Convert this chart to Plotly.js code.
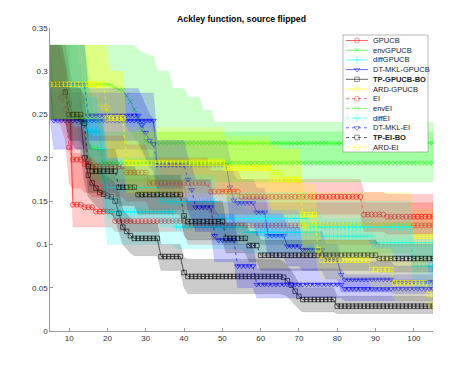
<!DOCTYPE html>
<html>
<head>
<meta charset="utf-8">
<script src="https://cdn.plot.ly/plotly-3.0.1.min.js"></script>
<style>
  html, body { margin: 0; padding: 0; background: #fff; }
  #chart { width: 467px; height: 371px; }
</style>
</head>
<body>
<div id="chart"></div>
<script>
// Best-so-far curves.
// Each row: [iteration where the value starts, mean, band low, band high];
// the value holds until the next row.
const GPUCB = [
  [5, 0.285, 0.245, 0.33], [11, 0.146, 0.12, 0.205], [14, 0.143, 0.12, 0.2],
  [17, 0.138, 0.12, 0.195], [22, 0.127, 0.115, 0.175], [41, 0.122, 0.1, 0.148],
];
const ENV_GPUCB = [
  [5, 0.285, 0.245, 0.33], [21, 0.284, 0.245, 0.33], [22, 0.281, 0.24, 0.33],
  [23, 0.279, 0.24, 0.33], [24, 0.278, 0.24, 0.33], [25, 0.272, 0.235, 0.33],
  [26, 0.265, 0.23, 0.33], [27, 0.256, 0.225, 0.33], [28, 0.245, 0.215, 0.325],
  [29, 0.232, 0.205, 0.322], [30, 0.219, 0.197, 0.32], [31, 0.217, 0.195, 0.318],
  [33, 0.217, 0.195, 0.3], [37, 0.217, 0.195, 0.28], [41, 0.217, 0.195, 0.27],
  [45, 0.217, 0.195, 0.255], [48, 0.217, 0.195, 0.241],
];
const DIFF_GPUCB = [
  [5, 0.285, 0.245, 0.33], [13, 0.26, 0.2, 0.3], [14, 0.24, 0.2, 0.28],
  [15, 0.23, 0.19, 0.27], [19, 0.18, 0.14, 0.22], [20, 0.1376, 0.1, 0.18],
  [38, 0.12, 0.095, 0.15], [56, 0.114, 0.09, 0.14], [76, 0.1095, 0.085, 0.13],
  [90, 0.102, 0.085, 0.125],
];
const DTMKL_GPUCB = [
  [5, 0.285, 0.245, 0.33], [6, 0.243, 0.21, 0.275], [33, 0.192, 0.16, 0.22],
  [52, 0.166, 0.13, 0.2], [53, 0.151, 0.125, 0.18], [54, 0.148, 0.125, 0.175],
  [59, 0.137, 0.11, 0.165], [62, 0.11, 0.085, 0.135], [67, 0.098, 0.075, 0.12],
  [71, 0.094, 0.07, 0.115], [77, 0.0826, 0.06, 0.1], [81, 0.065, 0.045, 0.085],
  [82, 0.0595, 0.045, 0.08], [95, 0.057, 0.043, 0.075],
];
const TP_GPUCB = [
  [5, 0.285, 0.245, 0.33], [10, 0.262, 0.225, 0.3], [11, 0.25, 0.215, 0.285],
  [12, 0.247, 0.21, 0.28], [14, 0.2, 0.17, 0.23], [15, 0.18, 0.155, 0.205],
  [16, 0.171, 0.15, 0.195], [17, 0.165, 0.145, 0.19], [18, 0.16, 0.14, 0.185],
  [19, 0.158, 0.138, 0.18], [20, 0.156, 0.136, 0.178], [21, 0.155, 0.135, 0.175],
  [22, 0.15, 0.13, 0.17], [23, 0.136, 0.115, 0.16], [24, 0.12, 0.1, 0.14],
  [25, 0.115, 0.095, 0.135], [26, 0.11, 0.09, 0.13], [27, 0.107, 0.087, 0.125],
  [34, 0.086, 0.07, 0.1], [40, 0.0675, 0.05, 0.085], [41, 0.063, 0.043, 0.083],
  [66, 0.062, 0.042, 0.08], [67, 0.058, 0.04, 0.075], [68, 0.053, 0.035, 0.07],
  [69, 0.046, 0.03, 0.062], [70, 0.04, 0.025, 0.055], [71, 0.0364, 0.022, 0.05],
  [80, 0.0287, 0.02, 0.04],
];
const ARD_GPUCB = [
  [5, 0.285, 0.245, 0.33], [18, 0.258, 0.22, 0.33], [21, 0.246, 0.2, 0.3],
  [25, 0.196, 0.155, 0.235], [51, 0.19, 0.15, 0.225], [63, 0.183, 0.14, 0.215],
  [66, 0.175, 0.13, 0.21], [71, 0.122, 0.09, 0.16], [100, 0.1095, 0.08, 0.14],
];
const EI = [
  [5, 0.285, 0.245, 0.33], [8, 0.27, 0.235, 0.32], [9, 0.256, 0.22, 0.3],
  [10, 0.212, 0.17, 0.25], [11, 0.198, 0.165, 0.235], [14, 0.193, 0.16, 0.23],
  [16, 0.19, 0.155, 0.225], [25, 0.183, 0.15, 0.215], [31, 0.171, 0.14, 0.2],
  [47, 0.161, 0.135, 0.185], [55, 0.155, 0.135, 0.175], [87, 0.1345, 0.115, 0.16],
  [93, 0.132, 0.112, 0.158],
];
const ENV_EI = [
  [5, 0.285, 0.245, 0.33], [14, 0.281, 0.24, 0.33], [15, 0.25, 0.2, 0.3],
  [16, 0.212, 0.175, 0.255], [17, 0.211, 0.175, 0.25], [18, 0.21, 0.172, 0.245],
  [19, 0.194, 0.172, 0.23],
];
const DIFF_EI = [
  [5, 0.285, 0.245, 0.33], [15, 0.232, 0.2, 0.27], [18, 0.21, 0.17, 0.25],
  [20, 0.1657, 0.13, 0.2], [34, 0.1495, 0.12, 0.18], [49, 0.13, 0.1, 0.16],
  [73, 0.12, 0.09, 0.15], [100, 0.0748, 0.05, 0.1],
];
const DTMKL_EI = [
  [5, 0.285, 0.245, 0.33], [15, 0.249, 0.22, 0.28], [29, 0.238, 0.21, 0.27],
  [30, 0.229, 0.2, 0.26], [31, 0.22, 0.19, 0.25], [32, 0.216, 0.185, 0.245],
  [33, 0.192, 0.165, 0.22], [41, 0.175, 0.14, 0.2], [42, 0.163, 0.13, 0.19],
  [43, 0.143, 0.115, 0.175], [48, 0.11, 0.08, 0.14], [49, 0.105, 0.08, 0.135],
  [54, 0.075, 0.05, 0.1], [59, 0.0537, 0.038, 0.072], [82, 0.0487, 0.035, 0.065],
];
const TP_EI = [
  [5, 0.285, 0.245, 0.33], [9, 0.276, 0.24, 0.31], [10, 0.25, 0.22, 0.28],
  [14, 0.24, 0.21, 0.27], [15, 0.19, 0.16, 0.22], [16, 0.1846, 0.16, 0.21],
  [23, 0.166, 0.145, 0.19], [28, 0.1576, 0.135, 0.18], [40, 0.133, 0.11, 0.155],
  [41, 0.1264, 0.105, 0.15], [51, 0.107, 0.09, 0.125], [57, 0.0987, 0.08, 0.115],
  [60, 0.0875, 0.07, 0.105], [91, 0.0837, 0.068, 0.1],
];
const ARD_EI = [
  [5, 0.285, 0.245, 0.33], [20, 0.246, 0.2, 0.3], [25, 0.194, 0.16, 0.23],
  [51, 0.188, 0.155, 0.22], [63, 0.175, 0.14, 0.21], [71, 0.1345, 0.1, 0.17],
  [75, 0.094, 0.07, 0.12], [76, 0.0818, 0.06, 0.105], [89, 0.071, 0.05, 0.095],
  [95, 0.0557, 0.035, 0.08], [104, 0.042, 0.025, 0.065],
];

const FIRST_ITER = 5;
const LAST_ITER = 105;
const X_TICKS = [10, 20, 30, 40, 50, 60, 70, 80, 90, 100];

const SERIES = [
  { name: "GPUCB", data: GPUCB, rgb: "255,0,0", symbol: "circle-open", size: 5, dash: "solid" },
  { name: "envGPUCB", data: ENV_GPUCB, rgb: "0,255,0", symbol: "x-thin-open", size: 4.5, dash: "solid" },
  { name: "diffGPUCB", data: DIFF_GPUCB, rgb: "0,255,255", symbol: "cross-thin-open", size: 5.5, dash: "solid" },
  { name: "DT-MKL-GPUCB", data: DTMKL_GPUCB, rgb: "0,0,255", symbol: "triangle-down-open", size: 5, dash: "solid" },
  { name: "TP-GPUCB-BO", data: TP_GPUCB, rgb: "0,0,0", symbol: "square-open", size: 4.5, dash: "solid", bold: true },
  { name: "ARD-GPUCB", data: ARD_GPUCB, rgb: "255,255,0", symbol: "square-open", size: 4.5, dash: "solid" },
  { name: "EI", data: EI, rgb: "255,0,0", symbol: "circle-open", size: 5, dash: "dot" },
  { name: "envEI", data: ENV_EI, rgb: "0,255,0", symbol: "x-thin-open", size: 4.5, dash: "dot" },
  { name: "diffEI", data: DIFF_EI, rgb: "0,255,255", symbol: "cross-thin-open", size: 5.5, dash: "dot" },
  { name: "DT-MKL-EI", data: DTMKL_EI, rgb: "0,0,255", symbol: "triangle-down-open", size: 5, dash: "dot" },
  { name: "TP-EI-BO", data: TP_EI, rgb: "0,0,0", symbol: "square-open", size: 4.5, dash: "dot", bold: true },
  { name: "ARD-EI", data: ARD_EI, rgb: "255,255,0", symbol: "square-open", size: 4.5, dash: "dot" },
];

// hold each row's value until the next row starts
function expand(rows) {
  const out = { x: [], y: [], lo: [], hi: [] };
  let k = 0;
  for (let it = FIRST_ITER; it <= LAST_ITER; it++) {
    while (k + 1 < rows.length && rows[k + 1][0] <= it) k++;
    out.x.push(it);
    out.y.push(rows[k][1]);
    out.lo.push(rows[k][2]);
    out.hi.push(rows[k][3]);
  }
  return out;
}

const traces = [];
SERIES.forEach((s) => {
  const d = expand(s.data);
  traces.push({
    x: d.x.concat([...d.x].reverse()),
    y: d.hi.concat([...d.lo].reverse()),
    type: "scatter",
    mode: "lines",
    fill: "toself",
    fillcolor: `rgba(${s.rgb},0.2)`,
    line: { color: `rgba(${s.rgb},0.22)`, width: 0.4 },
    hoverinfo: "skip",
    showlegend: false,
  });
  traces.push({
    x: d.x,
    y: d.y,
    type: "scatter",
    mode: "lines+markers",
    name: s.name,
    line: { color: `rgb(${s.rgb})`, width: 0.6, dash: s.dash },
    marker: { symbol: s.symbol, size: s.size, color: `rgb(${s.rgb})`, line: { width: 0.6, color: `rgb(${s.rgb})` } },
    showlegend: false,
  });
});

// hand-made legend box (plotly's own legend rows are too tall here)
// drawn on an overlay axis measured in screen pixels
const LEG = { left: 343, right: 428, top: 35, bottom: 152, row0: 40.5, step: 9.7 };
traces.push({
  x: [LEG.left, LEG.right, LEG.right, LEG.left, LEG.left],
  y: [LEG.top, LEG.top, LEG.bottom, LEG.bottom, LEG.top],
  xaxis: "x2", yaxis: "y2",
  type: "scatter", mode: "lines", fill: "toself",
  fillcolor: "#ffffff", line: { color: "#8c8c8c", width: 0.6 },
  hoverinfo: "skip", showlegend: false,
});
const annotations = [];
SERIES.forEach((s, i) => {
  const yy = LEG.row0 + i * LEG.step;
  traces.push({
    x: [346, 357, 368],
    y: [yy, yy, yy],
    xaxis: "x2", yaxis: "y2",
    type: "scatter", mode: "lines+markers",
    line: { color: `rgb(${s.rgb})`, width: 0.6, dash: s.dash },
    marker: { symbol: s.symbol, size: [0, s.size, 0], color: `rgb(${s.rgb})`, line: { width: 0.6, color: `rgb(${s.rgb})` } },
    hoverinfo: "skip", showlegend: false,
  });
  annotations.push({
    x: 371, y: yy, xref: "x2", yref: "y2",
    text: s.bold ? `<b>${s.name}</b>` : s.name,
    showarrow: false, xanchor: "left", yanchor: "middle",
    font: { family: "Liberation Sans, Arial, sans-serif", size: 7.5, color: "#222" },
  });
});

const axisStyle = {
  showline: true, linecolor: "#7f7f7f", linewidth: 0.8,
  ticks: "inside", ticklen: 3, tickcolor: "#7f7f7f", tickwidth: 0.8,
  showgrid: false, zeroline: false,
  tickfont: { family: "Liberation Sans, Arial, sans-serif", size: 8, color: "#333" },
};

const layout = {
  width: 467,
  height: 371,
  margin: { l: 50, r: 34, t: 28, b: 40 },
  paper_bgcolor: "#fff",
  plot_bgcolor: "#fff",
  showlegend: false,
  title: {
    text: "<b>Ackley function, source flipped</b>",
    x: 0.5, xref: "paper", y: 1 - 19 / 371, yanchor: "middle",
    font: { family: "Liberation Sans, Arial, sans-serif", size: 8.7, color: "#000" },
  },
  xaxis: { ...axisStyle, range: [FIRST_ITER, LAST_ITER], tickvals: X_TICKS },
  yaxis: { ...axisStyle, range: [0, 0.35], dtick: 0.05, tick0: 0 },
  xaxis2: { overlaying: "x", anchor: "y2", range: [50, 433], visible: false, fixedrange: true },
  yaxis2: { overlaying: "y", anchor: "x2", range: [331, 28], visible: false, fixedrange: true },
  annotations: annotations,
};

Plotly.newPlot("chart", traces, layout, { staticPlot: true, displayModeBar: false });
</script>
</body>
</html>
